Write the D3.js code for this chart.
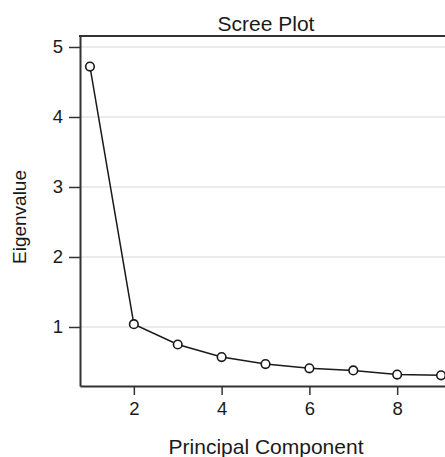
<!DOCTYPE html>
<html>
<head>
<meta charset="utf-8">
<script src="https://cdn.jsdelivr.net/npm/d3@7"></script>
<style>
  html, body { margin: 0; padding: 0; background: #fff; }
  svg { display: block; font-family: Arial, "Liberation Sans", sans-serif; }
</style>
</head>
<body>
<svg id="chart_svg"></svg>
<script>
// data
const components = [1, 2, 3, 4, 5, 6, 7, 8, 9];
const eigenvalues = [4.72, 1.04, 0.75, 0.57, 0.47, 0.41, 0.38, 0.32, 0.31];
const xTicks = [2, 4, 6, 8];
const yTicks = [1, 2, 3, 4, 5];

const width = 445;
const height = 457;
const plotLeft = 80, plotRight = 445, plotTop = 36, plotBottom = 386;

const svg = d3.select("#chart_svg")
  .attr("width", width)
  .attr("height", height);

const x = d3.scaleLinear().domain([0.773, 9.09]).range([plotLeft, plotRight]);
const y = d3.scaleLinear().domain([0.157, 5.157]).range([plotBottom, plotTop]);

// gridlines
svg.append("g")
  .selectAll("line")
  .data(yTicks)
  .enter().append("line")
  .attr("x1", plotLeft)
  .attr("x2", plotRight)
  .attr("y1", d => y(d))
  .attr("y2", d => y(d))
  .attr("stroke", "#e4e4e4")
  .attr("stroke-width", 1.5);

// axes
const xAxis = svg.append("g")
  .attr("transform", `translate(0,${plotBottom})`)
  .call(d3.axisBottom(x).tickValues(xTicks).tickFormat(d3.format("d"))
    .tickSize(9).tickPadding(7).tickSizeOuter(0));

const yAxis = svg.append("g")
  .attr("transform", `translate(${plotLeft},0)`)
  .call(d3.axisLeft(y).tickValues(yTicks).tickFormat(d3.format("d"))
    .tickSize(11).tickPadding(6).tickSizeOuter(0));

[xAxis, yAxis].forEach(g => {
  g.attr("font-size", null).attr("font-family", null);
  g.select(".domain").attr("stroke", "#333").attr("stroke-width", 2);
  g.selectAll(".tick line").attr("stroke", "#333").attr("stroke-width", 1.5);
  g.selectAll(".tick text")
    .attr("fill", "#1a1a1a")
    .style("font-size", "18.5px");
});

// top frame line
svg.append("line")
  .attr("x1", plotLeft - 1)
  .attr("x2", plotRight)
  .attr("y1", plotTop)
  .attr("y2", plotTop)
  .attr("stroke", "#333")
  .attr("stroke-width", 2);

// series line
const pts = components.map((c, i) => ({ c: c, v: eigenvalues[i] }));

svg.append("path")
  .datum(pts)
  .attr("fill", "none")
  .attr("stroke", "#1a1a1a")
  .attr("stroke-width", 1.5)
  .attr("d", d3.line().x(d => x(d.c)).y(d => y(d.v)));

svg.append("g")
  .selectAll("circle")
  .data(pts)
  .enter().append("circle")
  .attr("cx", d => x(d.c))
  .attr("cy", d => y(d.v))
  .attr("r", 4.3)
  .attr("fill", "#fff")
  .attr("stroke", "#1a1a1a")
  .attr("stroke-width", 1.6);

// title and labels
svg.append("text")
  .attr("x", 266)
  .attr("y", 30.5)
  .attr("text-anchor", "middle")
  .attr("fill", "#1a1a1a")
  .style("font-size", "21px")
  .text("Scree Plot");

svg.append("text")
  .attr("x", 266)
  .attr("y", 454)
  .attr("text-anchor", "middle")
  .attr("fill", "#1a1a1a")
  .style("font-size", "21px")
  .text("Principal Component");

svg.append("text")
  .attr("transform", `translate(26,217) rotate(-90)`)
  .attr("text-anchor", "middle")
  .attr("fill", "#1a1a1a")
  .style("font-size", "19px")
  .text("Eigenvalue");
</script>
</body>
</html>
